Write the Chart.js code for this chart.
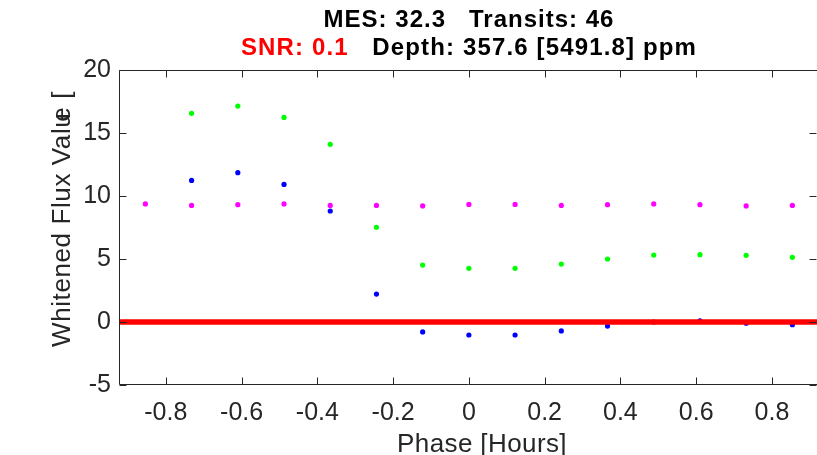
<!DOCTYPE html>
<html><head><meta charset="utf-8">
<script src="https://cdn.jsdelivr.net/npm/chart.js@4/dist/chart.umd.min.js"></script>
<style>html,body{margin:0;padding:0;background:#fff;overflow:hidden}#wrap{width:817px;height:455px;position:relative}</style>
</head><body><div id="wrap"><canvas id="c" width="817" height="455"></canvas></div>
<script>
// ---- data ----
const phase = [-0.854,-0.732,-0.610,-0.488,-0.366,-0.244,-0.122,0.000,0.122,0.244,0.366,0.488,0.610,0.732,0.854];
const fluxMagenta = [9.37,9.25,9.31,9.37,9.25,9.25,9.21,9.33,9.33,9.25,9.31,9.37,9.31,9.21,9.25];
const fluxGreen   = [null,16.56,17.14,16.24,14.10,7.51,4.52,4.26,4.26,4.60,5.00,5.31,5.34,5.29,5.13];
const fluxBlue    = [null,11.24,11.85,10.92,8.81,2.22,-0.79,-1.03,-1.03,-0.71,-0.32,0.00,0.10,-0.10,-0.21];
const xRange = [-0.921, 0.919];
const yRange = [-5, 20];
const zeroLevel = [0, 0];
const titleLine1 = "MES: 32.3   Transits: 46";
const snrText = "SNR: 0.1";
const depthText = "Depth: 357.6 [5491.8] ppm";
const xLabel = "Phase [Hours]";
const yLabelMain = "Whitened Flux Valu";
const yLabelE = "e";
const yLabelEnd = " [";

const FONT = '"Liberation Sans", Arial, Helvetica, sans-serif';
const AX = '#262626';

function pts(ys){ return phase.map((x,i)=>({x:x,y:ys[i]})).filter(p=>p.y!==null); }

const deco = {
  id:'deco',
  afterDraw(chart){
    const ctx = chart.ctx, a = chart.chartArea;
    const xs = chart.scales.x, ys = chart.scales.y;
    ctx.save();
    ctx.strokeStyle = AX; ctx.lineWidth = 1;
    const L = Math.round(a.left)-0.5, R = Math.round(a.right)+0.5, T = Math.round(a.top)+0.5, B = Math.round(a.bottom)-0.5;
    ctx.beginPath();
    ctx.moveTo(R,T); ctx.lineTo(L,T); ctx.lineTo(L,B); ctx.lineTo(R,B);
    ctx.stroke();
    const tl = 7;
    ctx.beginPath();
    xs.ticks.forEach(t=>{ const px = Math.round(xs.getPixelForValue(t.value))+0.5;
      ctx.moveTo(px,B); ctx.lineTo(px,B-tl); ctx.moveTo(px,T); ctx.lineTo(px,T+tl); });
    ys.ticks.forEach(t=>{ const py = Math.round(ys.getPixelForValue(t.value))+0.5;
      ctx.moveTo(L,py); ctx.lineTo(L+tl,py); ctx.moveTo(R-1,py); ctx.lineTo(R-1-tl,py); });
    ctx.stroke();
    // titles
    const cx = 469;
    ctx.fillStyle = '#000';
    ctx.font = 'bold 24px ' + FONT;
    ctx.letterSpacing = '1px';
    ctx.textBaseline = 'alphabetic';
    ctx.textAlign = 'left';
    const wt = ctx.measureText(titleLine1).width;
    ctx.fillText(titleLine1, cx - wt/2, 27);
    ctx.letterSpacing = '1.15px';
    const gap = ctx.measureText('   ').width;
    const w1 = ctx.measureText(snrText).width, w2 = ctx.measureText(depthText).width;
    const start = cx - (w1+gap+w2)/2;
    ctx.fillStyle = '#ff0000';
    ctx.fillText(snrText, start, 55);
    ctx.fillStyle = '#000';
    ctx.fillText(depthText, start + w1 + gap, 55);
    // axis labels
    ctx.fillStyle = AX;
    ctx.font = '26px ' + FONT;
    ctx.letterSpacing = '0.4px';
    const wx = ctx.measureText(xLabel).width;
    ctx.fillText(xLabel, 482 - wx/2, 452);
    ctx.letterSpacing = '0.6px';
    ctx.translate(70, 347);
    ctx.rotate(-Math.PI/2);
    const wm = ctx.measureText(yLabelMain).width;
    const we = ctx.measureText(yLabelE).width;
    ctx.fillText(yLabelMain, 0, 0);
    const ex = wm - 9;
    ctx.fillText(yLabelE, ex, 0);
    ctx.fillText(yLabelEnd, ex + we, 0);
    ctx.restore();
  }
};

new Chart(document.getElementById('c'), {
  type: 'scatter',
  data: { datasets: [
    { type:'line', data: xRange.map((x,i)=>({x:x,y:zeroLevel[i]})), borderColor:'#ff0000', borderWidth:5.5, pointRadius:0, order:0 },
    { data: pts(fluxMagenta), backgroundColor:'#ff00ff', pointRadius:2.6, pointBorderWidth:0, order:3 },
    { data: pts(fluxGreen), backgroundColor:'#00ff00', pointRadius:2.6, pointBorderWidth:0, order:2 },
    { data: pts(fluxBlue), backgroundColor:'#0000ff', pointRadius:2.6, pointBorderWidth:0, order:1 }
  ]},
  options: {
    responsive:false, animation:false, devicePixelRatio:1,
    layout:{ autoPadding:false, padding:{ top:70, right:0, left:0, bottom:0 } },
    plugins:{ legend:{display:false}, tooltip:{enabled:false}, title:{display:false} },
    scales:{
      x:{ type:'linear', min:xRange[0], max:xRange[1],
          grid:{ display:false, drawTicks:false }, border:{display:false},
          ticks:{ stepSize:0.2, includeBounds:false, color:AX, padding:13, font:{family:FONT, size:25}, maxRotation:0 },
          afterFit(s){ s.height = 70; s.paddingLeft = 0; s.paddingRight = 0; } },
      y:{ type:'linear', min:yRange[0], max:yRange[1],
          grid:{ display:false, drawTicks:false }, border:{display:false},
          ticks:{ stepSize:5, includeBounds:false, color:AX, padding:9, font:{family:FONT, size:25} },
          afterFit(s){ s.width = 120; s.paddingTop = 0; s.paddingBottom = 0; } }
    }
  },
  plugins:[deco]
});
</script></body></html>
